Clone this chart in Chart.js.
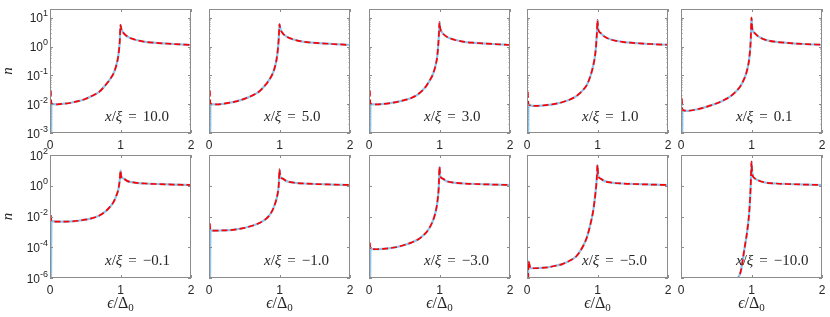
<!DOCTYPE html>
<html>
<head>
<meta charset="utf-8">
<script src="https://cdn.jsdelivr.net/npm/chart.js@4.4.1/dist/chart.umd.min.js"></script>
<style>
  body { margin: 0; background: #fff; }
  #wrap { position: relative; width: 830px; height: 317px; }
  #wrap canvas { position: absolute; left: 0; top: 0; }
</style>
</head>
<body>
<div id="wrap"></div>
<script>
// energy grid (eps / Delta0), shared by all panels
const eps = [0.02, 0.05, 0.1, 0.2, 0.3, 0.4, 0.5, 0.6, 0.7, 0.8, 0.85, 0.9, 0.94, 0.97, 0.99, 1.0, 1.01, 1.04, 1.1, 1.2, 1.35, 1.5, 1.75, 2.0];

// density of states n for each x/xi
const nP10  = [0.0105, 0.0100, 0.0099, 0.0104, 0.0112, 0.0127, 0.0152, 0.0195, 0.027, 0.05, 0.072, 0.115, 0.22, 0.5, 1.6, 5.6, 4.2, 3.0, 2.2, 1.75, 1.45, 1.34, 1.22, 1.13];
const nP5   = [0.0105, 0.0099, 0.0098, 0.0103, 0.0113, 0.0128, 0.0153, 0.0192, 0.026, 0.046, 0.068, 0.11, 0.22, 0.55, 2.0, 6.0, 4.3, 3.0, 2.2, 1.75, 1.45, 1.34, 1.22, 1.13];
const nP3   = [0.0104, 0.0099, 0.0098, 0.0102, 0.0109, 0.012, 0.0138, 0.0163, 0.0225, 0.039, 0.06, 0.1, 0.2, 0.5, 2.2, 7.0, 4.3, 3.0, 2.2, 1.75, 1.45, 1.34, 1.22, 1.13];
const nP1   = [0.0100, 0.0091, 0.0087, 0.0089, 0.0094, 0.0103, 0.0117, 0.0142, 0.019, 0.032, 0.047, 0.095, 0.22, 0.6, 2.5, 8.3, 4.0, 3.0, 2.2, 1.72, 1.45, 1.34, 1.22, 1.15];
const nP01  = [0.0065, 0.0060, 0.0059, 0.0064, 0.0073, 0.0087, 0.0105, 0.0135, 0.0185, 0.031, 0.045, 0.08, 0.16, 0.42, 1.8, 10.0, 4.2, 3.0, 2.2, 1.7, 1.45, 1.34, 1.22, 1.15];
const nM01  = [0.0052, 0.0048, 0.0046, 0.0046, 0.0048, 0.0053, 0.0062, 0.0078, 0.0115, 0.024, 0.042, 0.085, 0.22, 0.6, 2.5, 9.6, 4.0, 3.0, 2.0, 1.6, 1.4, 1.3, 1.2, 1.12];
const nM1   = [0.0013, 0.0012, 0.0012, 0.00125, 0.0013, 0.0015, 0.0018, 0.0024, 0.0035, 0.0065, 0.011, 0.025, 0.075, 0.25, 1.2, 11.7, 4.0, 3.0, 2.0, 1.6, 1.4, 1.3, 1.2, 1.12];
const nM3   = [7.8e-5, 7.5e-5, 7.4e-5, 7.8e-5, 8.8e-5, 1.05e-4, 1.4e-4, 2.0e-4, 3.3e-4, 8e-4, 1.6e-3, 4.5e-3, 0.016, 0.09, 0.9, 17, 4.2, 3.0, 2.0, 1.6, 1.4, 1.3, 1.2, 1.12];
const nM5   = [1.2e-5, 4.4e-6, 4.3e-6, 4.5e-6, 5.0e-6, 6.2e-6, 8.0e-6, 1.3e-5, 2.6e-5, 1.3e-4, 4.5e-4, 3.2e-3, 0.025, 0.3, 3.0, 22, 4.5, 3.0, 2.0, 1.6, 1.4, 1.3, 1.2, 1.12];
const nM10  = [null, null, null, null, null, null, null, null, 1e-8, 7e-7, 3e-6, 8e-5, 1.2e-3, 0.026, 1.45, 37, 6.5, 3.2, 2.2, 1.6, 1.4, 1.3, 1.2, 1.12];

// value at the gap edge eps -> 0 (red spike / blue drop), null = no point
const startEps = 0.012;
const redStart  = [0.03, 0.03, 0.03, 0.027, 0.016, 0.0125, 0.0036, 2e-4, 1e-9, null];
const blueStart = [1e-9, 1e-9, 1e-9, 1e-9, 1e-9, 1e-9, 1e-9, 1e-9, 1e-9, null];

const panels = [nP10, nP5, nP3, nP1, nP01, nM01, nM1, nM3, nM5, nM10];
const xiLabels = ['10.0', '5.0', '3.0', '1.0', '0.1', '\u22120.1', '\u22121.0', '\u22123.0', '\u22125.0', '\u221210.0'];

const xTicks = [0, 1, 2];
const yTicksTop = [-3, -2, -1, 0, 1];
const yTicksBottom = [-6, -4, -2, 0, 2];

// layout
const colLeft = [50, 209, 369, 527, 681];
const plotW = 141;
const rowTop = [9, 155];
const rowBottom = [133, 278];

const AXIS = '#8c8c8c';
const TEXT = '#262626';
const BLUE = '#8cc6ef';
const RED = '#ff0000';
const SANS = '"Liberation Sans", Arial, sans-serif';
const SERIF = '"Liberation Serif", "DejaVu Serif", serif';

const deco = {
  id: 'deco',
  afterDraw(chart, args, o) {
    const ctx = chart.ctx, a = chart.chartArea;
    const xs = chart.scales.x, ys = chart.scales.y;
    ctx.save();
    ctx.strokeStyle = AXIS;
    ctx.lineWidth = 1;

    // major ticks, pointing inward
    ctx.beginPath();
    xTicks.forEach(v => {
      const px = Math.round(xs.getPixelForValue(v)) + 0.5;
      ctx.moveTo(px, a.bottom); ctx.lineTo(px, a.bottom - 3);
      ctx.moveTo(px, a.top); ctx.lineTo(px, a.top + 3);
    });
    o.yTicks.forEach(k => {
      const py = Math.round(ys.getPixelForValue(Math.pow(10, k))) + 0.5;
      ctx.moveTo(a.left, py); ctx.lineTo(a.left + 3, py);
      ctx.moveTo(a.right, py); ctx.lineTo(a.right - 3, py);
    });
    // minor log ticks on the top row
    if (o.minor) {
      for (let k = -3; k <= 1; k++) {
        for (let m = 2; m <= 9; m++) {
          const v = m * Math.pow(10, k);
          if (v >= ys.max) continue;
          const py = Math.round(ys.getPixelForValue(v)) + 0.5;
          ctx.moveTo(a.left, py); ctx.lineTo(a.left + 1.5, py);
          ctx.moveTo(a.right, py); ctx.lineTo(a.right - 1.5, py);
        }
      }
    }
    ctx.stroke();
    ctx.strokeRect(a.left + 0.5, a.top + 0.5, a.right - a.left - 1, a.bottom - a.top - 1);

    // x tick labels
    ctx.fillStyle = TEXT;
    ctx.font = '12px ' + SANS;
    ctx.textAlign = 'center';
    ctx.textBaseline = 'alphabetic';
    xTicks.forEach(v => {
      ctx.fillText(String(v), xs.getPixelForValue(v), a.bottom + 16);
    });

    // y tick labels 10^k (first column only)
    if (o.yLabels) {
      ctx.textAlign = 'left';
      o.yTicks.forEach(k => {
        const py = ys.getPixelForValue(Math.pow(10, k));
        const ex = k < 0 ? '-' + (-k) : String(k);
        ctx.font = '12px ' + SANS;
        const wb = ctx.measureText('10').width;
        ctx.font = '9px ' + SANS;
        const we = ctx.measureText(ex).width;
        const x0 = a.left - 2 - wb - we;
        ctx.font = '12px ' + SANS;
        ctx.fillText('10', x0, py + 4.5);
        ctx.font = '9px ' + SANS;
        ctx.fillText(ex, x0 + wb, py - 1.5);
      });
      // y axis label n
      ctx.save();
      ctx.font = 'italic 15px ' + SERIF;
      ctx.textAlign = 'center';
      ctx.textBaseline = 'middle';
      ctx.translate(8, (a.top + a.bottom) / 2);
      ctx.rotate(-Math.PI / 2);
      ctx.fillText('n', 0, 0);
      ctx.restore();
    }

    // x axis label (bottom row)
    if (o.xTitle) {
      const parts = [
        ['\u03F5', 'italic 16px ' + SERIF, 0],
        ['/', '16px ' + SERIF, 0],
        ['\u0394', '16px ' + SERIF, 0],
        ['0', '11px ' + SERIF, 3]
      ];
      drawParts(ctx, parts, (a.left + a.right) / 2, 308, true);
    }

    // annotation x/xi = value
    const s = 15;
    const parts = [
      ['x', 'italic ' + s + 'px ' + SERIF, 0],
      ['/', s + 'px ' + SERIF, 0],
      ['\u03BE', 'italic ' + s + 'px ' + SERIF, 0],
      ['\u2009\u2009=\u2009\u2009', s + 'px ' + SERIF, 0],
      [o.label, s + 'px ' + SERIF, 0]
    ];
    const tx = xs.getPixelForValue(0.78);
    drawParts(ctx, parts, tx, a.bottom - o.textLift, false);
    ctx.restore();
  }
};

function drawParts(ctx, parts, x, y, centered) {
  ctx.textAlign = 'left';
  ctx.textBaseline = 'alphabetic';
  let total = 0;
  parts.forEach(p => { ctx.font = p[1]; total += ctx.measureText(p[0]).width; });
  let cx = centered ? x - total / 2 : x;
  parts.forEach(p => {
    ctx.font = p[1];
    ctx.fillText(p[0], cx, y + p[2]);
    cx += ctx.measureText(p[0]).width;
  });
}

const wrap = document.getElementById('wrap');
panels.forEach((vals, i) => {
  const row = Math.floor(i / 5), col = i % 5;
  const cv = document.createElement('canvas');
  cv.width = 830; cv.height = 317;
  wrap.appendChild(cv);
  const L = colLeft[col], R = L + plotW, T = rowTop[row], B = rowBottom[row];

  const curve = eps.map((e, k) => ({ x: e, y: vals[k] }));
  const red = redStart[i] == null ? curve : [{ x: startEps, y: redStart[i] }].concat(curve);
  const blue = blueStart[i] == null ? curve : [{ x: startEps, y: blueStart[i] }].concat(curve);

  new Chart(cv, {
    type: 'line',
    data: {
      datasets: [
        { data: red, borderColor: RED, borderWidth: 1.7, borderDash: [6, 3], order: 0 },
        { data: blue, borderColor: BLUE, borderWidth: 2.2, order: 1 }
      ]
    },
    options: {
      responsive: false,
      animation: false,
      events: [],
      layout: { padding: { left: L, top: T, right: 830 - R, bottom: 317 - B } },
      elements: {
        point: { radius: 0 },
        line: { cubicInterpolationMode: 'monotone', fill: false }
      },
      scales: {
        x: { type: 'linear', min: 0, max: 2, display: false },
        y: { type: 'logarithmic', min: row ? 1e-6 : 1e-3, max: row ? 100 : 20, display: false }
      },
      plugins: {
        legend: { display: false },
        tooltip: { enabled: false },
        deco: {
          yTicks: row ? yTicksBottom : yTicksTop,
          minor: row === 0,
          yLabels: col === 0,
          xTitle: row === 1,
          label: xiLabels[i],
          textLift: row ? 13.5 : 12.5
        }
      }
    },
    plugins: [deco]
  });
});
</script>
</body>
</html>
